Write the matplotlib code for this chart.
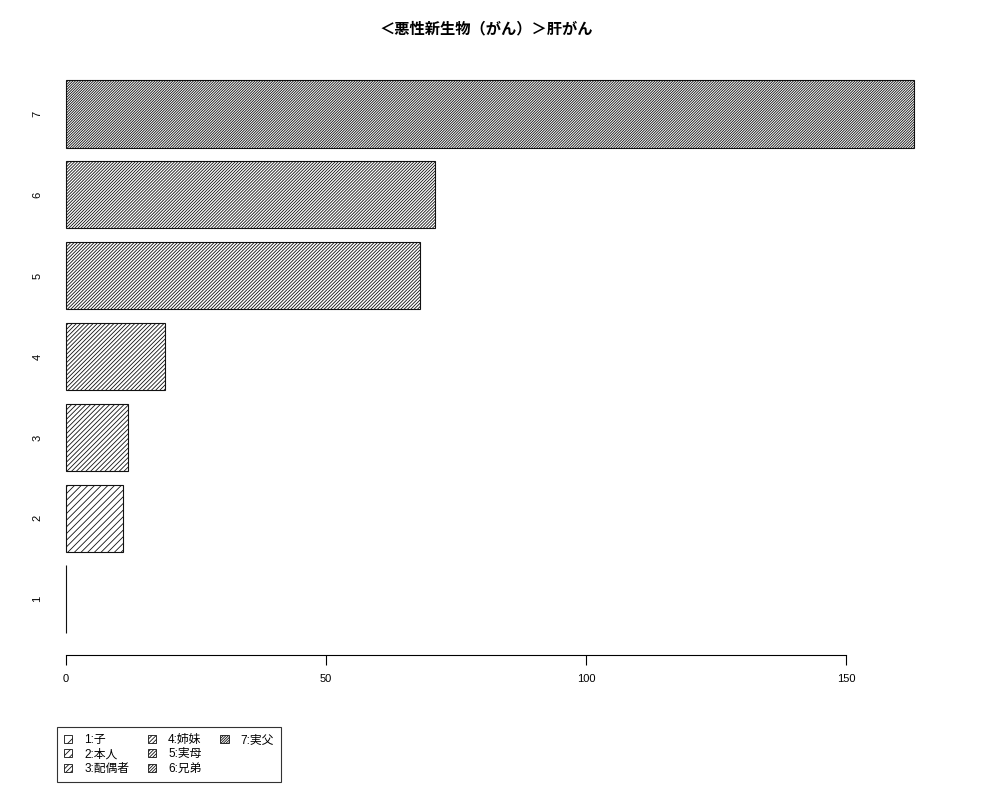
import matplotlib
matplotlib.use("Agg")
import matplotlib.pyplot as plt
from matplotlib.patches import Patch

plt.rcParams['font.family'] = ['Liberation Sans', 'Noto Sans CJK JP', 'DejaVu Sans']
plt.rcParams['hatch.linewidth'] = 0.6

categories = ['1', '2', '3', '4', '5', '6', '7']
values = [0, 11, 12, 19, 68, 71, 163]
legend_labels = ['1:子', '2:本人', '3:配偶者', '4:姉妹', '5:実母', '6:兄弟', '7:実父']
hatch_levels = [3, 5, 7, 8, 10, 11, 13]
title = '＜悪性新生物（がん）＞肝がん'
xticks = [0, 50, 100, 150]

fig = plt.figure(figsize=(10, 8), dpi=100)
ax = fig.add_axes([0.066, 1 - 655/800, 0.947 - 0.066, (655 - 58)/800])

ypos = [0.7 + 1.2*i for i in range(len(values))]
for y, v, h in zip(ypos, values, hatch_levels):
    ax.barh(y, v, height=1.0, left=0, facecolor='white', edgecolor='#111111',
            linewidth=0.8, hatch='/'*h, clip_on=False)

ax.set_xlim(0, 169.4)
ax.set_ylim(-0.128, 8.728)

for s in ['top', 'right', 'left']:
    ax.spines[s].set_visible(False)
ax.spines['bottom'].set_bounds(0, 150)
ax.spines['bottom'].set_linewidth(0.8)
ax.set_xticks(xticks)
ax.set_xticklabels([str(t) for t in xticks], fontsize=8)
ax.tick_params(axis='x', length=7, width=0.8, pad=7)
ax.set_yticks(ypos)
ax.set_yticklabels(categories, fontsize=8, rotation=90, va='center')
ax.tick_params(axis='y', length=0, pad=17)

fig.text(0.486, 1 - 29/800, title, ha='center', va='center', fontsize=11, fontweight='bold')

handles = [Patch(facecolor='white', edgecolor='#111111', linewidth=0.6, hatch='/'*h)
           for h in hatch_levels]
labels = list(legend_labels)
# two invisible placeholders so columns fill 3 / 3 / 1 like the reference
for _ in range(2):
    handles.append(Patch(visible=False))
    labels.append('')
leg = fig.legend(handles, labels, loc='upper left',
                 bbox_to_anchor=(0.057, 1 - 727/800), ncol=3, fontsize=8.5,
                 frameon=True, fancybox=False, borderaxespad=0,
                 handlelength=0.7, handleheight=0.7, handletextpad=1.0,
                 columnspacing=1.6, labelspacing=0.2, borderpad=0.6)
leg.get_frame().set_edgecolor('black')
leg.get_frame().set_linewidth(0.8)

fig.savefig('out.png', dpi=100)
